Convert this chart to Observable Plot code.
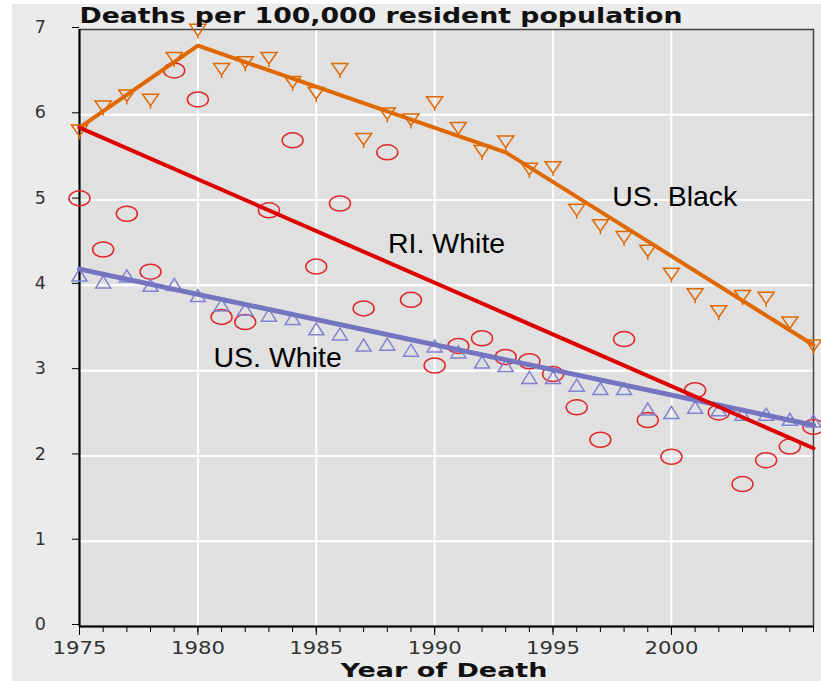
<!DOCTYPE html>
<html><head><meta charset="utf-8">
<script src="https://cdn.jsdelivr.net/npm/d3@7"></script>
<script src="https://cdn.jsdelivr.net/npm/@observablehq/plot@0.6"></script>
<style>
body{margin:0;background:#fff;}
#wrap{position:relative;width:821px;height:681px;overflow:hidden;background:#fff;}
#panel{position:absolute;left:12px;top:4px;right:0;bottom:0;background:#ebebeb;}
#chart{position:absolute;left:0;top:0;}
</style></head><body>
<div id="wrap"><div id="panel"></div><div id="chart"></div></div>
<script>
// ---- data ----
const years = [1975,1976,1977,1978,1979,1980,1981,1982,1983,1984,1985,1986,1987,1988,1989,1990,
               1991,1992,1993,1994,1995,1996,1997,1998,1999,2000,2001,2002,2003,2004,2005,2006];
const usBlack = [5.81,6.09,6.22,6.17,6.66,6.99,6.53,6.61,6.66,6.38,6.25,6.53,5.71,6.01,5.94,6.14,
                 5.84,5.57,5.68,5.36,5.38,4.88,4.70,4.56,4.40,4.13,3.89,3.69,3.87,3.85,3.56,3.29];
const riWhite = [5.02,4.42,4.84,4.16,6.52,6.18,3.63,3.57,4.88,5.70,4.22,4.96,3.73,5.56,3.83,3.06,
                 3.29,3.38,3.16,3.11,2.96,2.57,2.19,3.37,2.42,1.99,2.77,2.51,1.67,1.95,2.11,2.34];
const usWhite = [4.12,4.04,4.11,4.00,4.01,3.88,3.77,3.72,3.65,3.61,3.49,3.43,3.30,3.31,3.24,3.29,
                 3.22,3.10,3.06,2.92,2.92,2.83,2.79,2.79,2.55,2.51,2.57,2.54,2.49,2.49,2.43,2.41];
// fitted (joinpoint) trends
const blackFitYears = [1975,1980,1993,2006];
const blackFit      = [5.85,6.81,5.56,3.30];
const riFitYears    = [1975,2006];
const riFit         = [5.85,2.09];
const usWhiteFitYears = [1975,2006];
const usWhiteFit      = [4.19,2.36];
// series labels (data coordinates)
const labelNames = ["US. Black","RI. White","US. White"];
const labelYears = [1997.5,1988.03,1980.66];
const labelValues = [4.935,4.385,3.04];
// ticks
const yTicks = [0,1,2,3,4,5,6,7];
const yGrid = [1,2,3,4,5,6];
const xMajorTicks = [1975,1980,1985,1990,1995,2000];
const xGrid = [1980,1985,1990,1995,2000];
const titleText = "Deaths per 100,000 resident population";
const xLabelText = "Year of Death";

// ---- build ----
const pts = (xs, vs) => xs.map((x, i) => ({year: x, value: vs[i]}));
const blackPts = pts(years, usBlack), riPts = pts(years, riWhite), whitePts = pts(years, usWhite);
const labels = labelNames.map((n, i) => ({name: n, year: labelYears[i], value: labelValues[i]}));

const K = 0.5523;
const ellipseSym = {draw(c){
  const rx = 10.5, ry = 7.5;
  c.moveTo(-rx, 0);
  c.bezierCurveTo(-rx, -ry*K, -rx*K, -ry, 0, -ry);
  c.bezierCurveTo(rx*K, -ry, rx, -ry*K, rx, 0);
  c.bezierCurveTo(rx, ry*K, rx*K, ry, 0, ry);
  c.bezierCurveTo(-rx*K, ry, -rx, ry*K, -rx, 0);
  c.closePath();
}};
const downTri = {draw(c){c.moveTo(-8,-6);c.lineTo(8,-6);c.lineTo(0,5.5);c.closePath();c.moveTo(0,5.5);c.lineTo(0,8.5);}};
const upTri = {draw(c){c.moveTo(0,-6);c.lineTo(7.5,6);c.lineTo(-7.5,6);c.closePath();}};

const ORANGE = "#e06800", RED = "#dd0000", REDM = "#e02828", PURP = "#7474c0", PURPM = "#8282d2";

const chart = Plot.plot({
  width: 821, height: 681,
  marginLeft: 79, marginRight: 8, marginTop: 29, marginBottom: 55,
  style: {background: "transparent", overflow: "visible"},
  x: {domain: [1975, 2006]},
  y: {domain: [0, 7]},
  marks: [
    Plot.frame({fill: "#e0e0e0"}),
    Plot.ruleX(xGrid, {stroke: "#fff", strokeWidth: 2}),
    Plot.ruleY(yGrid, {stroke: "#fff", strokeWidth: 2}),
    Plot.frame({stroke: "#444", strokeWidth: 1.5}),
    Plot.ruleX([1975], {stroke: "#000", strokeWidth: 2}),
    Plot.ruleY([0], {stroke: "#000", strokeWidth: 2}),
    Plot.axisY(yTicks, {tickSize: 7, tickPadding: 26.5, tickFormat: d => String(d), fontSize: 17.5, fontFamily: "DejaVu Sans", stroke: "#000", fill: "#333", label: null, dy: -2}),
    Plot.axisX(years, {tickSize: 6, tickFormat: () => "", stroke: "#000", label: null}),
    Plot.axisX(xMajorTicks, {tickSize: 9, tickPadding: 6, tickFormat: d => String(d), fontSize: 17.5, fontFamily: "DejaVu Sans", stroke: "#000", fill: "#333", label: null}),
    Plot.dot(blackPts, {x: "year", y: "value", symbol: downTri, stroke: ORANGE, strokeWidth: 1.5, fill: "none"}),
    Plot.dot(riPts, {x: "year", y: "value", symbol: ellipseSym, stroke: REDM, strokeWidth: 1.5, fill: "none"}),
    Plot.dot(whitePts, {x: "year", y: "value", symbol: upTri, stroke: PURPM, strokeWidth: 1.5, fill: "none"}),
    Plot.line(pts(blackFitYears, blackFit), {x: "year", y: "value", stroke: ORANGE, strokeWidth: 4}),
    Plot.line(pts(usWhiteFitYears, usWhiteFit), {x: "year", y: "value", stroke: PURP, strokeWidth: 5}),
    Plot.line(pts(riFitYears, riFit), {x: "year", y: "value", stroke: RED, strokeWidth: 4}),
    Plot.text(labels, {x: "year", y: "value", text: "name", textAnchor: "start", lineAnchor: "bottom", fontSize: 28.5, fontFamily: "Liberation Sans", fill: "#000"}),
    Plot.text([titleText], {text: d => d, frameAnchor: "top-left", textAnchor: "start", lineAnchor: "bottom", dy: -7, fontSize: 20.5, fontWeight: "bold", fontFamily: "DejaVu Sans", fill: "#111"}),
    Plot.text([xLabelText], {text: d => d, frameAnchor: "bottom", textAnchor: "middle", lineAnchor: "bottom", dy: 50.5, dx: -2.5, fontSize: 19.5, fontWeight: "bold", fontFamily: "DejaVu Sans", fill: "#111"})
  ]
});
document.getElementById("chart").appendChild(chart);

// stretch wide-set texts to the reference widths
const svg = d3.select(chart);
svg.selectAll("text").each(function(){
  const t = this.textContent;
  if (t === titleText) d3.select(this).attr("textLength", 603).attr("lengthAdjust", "spacingAndGlyphs");
  if (t === xLabelText) d3.select(this).attr("textLength", 207).attr("lengthAdjust", "spacingAndGlyphs");
  if (/^\d{4}$/.test(t)) d3.select(this).attr("textLength", 54).attr("lengthAdjust", "spacingAndGlyphs");
});
</script>
</body></html>
